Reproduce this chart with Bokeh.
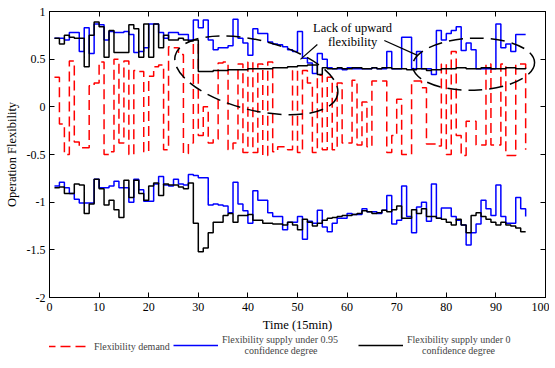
from bokeh.plotting import figure
from bokeh.layouts import column
from bokeh.models import LinearAxis, Range1d, Legend, LegendItem
from bokeh.embed import file_html
from bokeh.resources import INLINE
from bokeh.core.properties import value

# ---------------- data ----------------
time = list(range(1, 97))

demand = [0.31, -0.18, -0.50, 0.48, -0.37, -0.43, -0.43, 0.22, 0.25, 0.47,
          -0.50, -0.47, 0.50, -0.38, 0.48, -0.50, 0.38, 0.37, -0.47, 0.32,
          0.42, 0.44, -0.45, 0.63, 0.62, 0.55, -0.49, -0.38, 0.66, -0.30,
          0.00, -0.38, -0.34, 0.46, 0.47, -0.45, -0.38, 0.45, -0.48, 0.47,
          -0.48, 0.45, -0.51, 0.47, -0.47, -0.42, -0.42, -0.45, 0.38, -0.48,
          0.38, 0.25, -0.48, 0.33, -0.45, 0.31, -0.45, 0.25, -0.38, -0.38,
          0.28, -0.40, 0.05, -0.42, 0.27, 0.27, 0.27, -0.48, -0.30, 0.08,
          -0.50, -0.50, 0.27, 0.27, 0.20, -0.39, -0.39, -0.41, 0.45, -0.50,
          0.58, -0.30, -0.51, -0.15, -0.15, -0.40, -0.40, 0.45, -0.40, -0.40,
          0.45, -0.51, -0.51, 0.45, 0.45, -0.45]

supply95_up = [0.72, 0.72, 0.70, 0.78, 0.78, 0.58, 0.83, 0.56, 0.87, 0.86,
               0.70, 0.79, 0.78, 0.78, 0.79, 0.76, 0.57, 0.58, 0.62, 0.87,
               0.87, 0.78, 0.72, 0.78, 0.78, 0.76, 0.76, 0.70, 0.91, 0.83,
               0.91, 0.70, 0.60, 0.62, 0.62, 0.64, 0.92, 0.72, 0.67, 0.54,
               0.82, 0.77, 0.77, 0.68, 0.66, 0.65, 0.63, 0.60, 0.58, 0.79,
               0.51, 0.46, 0.35, 0.56, 0.50, 0.41, 0.40, 0.40, 0.39, 0.41,
               0.40, 0.40, 0.40, 0.40, 0.41, 0.40, 0.40, 0.58, 0.40, 0.40,
               0.73, 0.73, 0.40, 0.58, 0.40, 0.40, 0.34, 0.80, 0.70, 0.77,
               0.80, 0.84, 0.59, 0.67, 0.60, 0.40, 0.40, 0.40, 0.40, 0.87,
               0.62, 0.66, 0.58, 0.76, 0.76, 0.76]

supply0_up = [0.72, 0.66, 0.75, 0.73, 0.72, 0.72, 0.42, 0.75, 0.89, 0.84,
              0.52, 0.80, 0.57, 0.57, 0.57, 0.86, 0.82, 0.52, 0.87, 0.52,
              0.87, 0.62, 0.75, 0.70, 0.70, 0.72, 0.70, 0.69, 0.70, 0.37,
              0.37, 0.37, 0.38, 0.38, 0.38, 0.39, 0.39, 0.39, 0.39, 0.40,
              0.40, 0.40, 0.40, 0.40, 0.41, 0.41, 0.41, 0.42, 0.42, 0.43,
              0.43, 0.44, 0.44, 0.34, 0.41, 0.40, 0.40, 0.41, 0.40, 0.40,
              0.41, 0.41, 0.40, 0.40, 0.41, 0.40, 0.41, 0.41, 0.40, 0.40,
              0.40, 0.39, 0.39, 0.40, 0.40, 0.38, 0.39, 0.39, 0.40, 0.40,
              0.40, 0.41, 0.41, 0.40, 0.40, 0.40, 0.41, 0.41, 0.40, 0.40,
              0.40, 0.41, 0.41, 0.40, 0.40, 0.41]

supply95_down = [-0.83, -0.79, -0.85, -0.91, -0.97, -1.01, -1.01, -1.01, -0.76, -0.85,
                 -0.85, -0.83, -0.78, -0.85, -0.85, -1.00, -0.76, -0.87, -0.99, -0.99,
                 -0.81, -0.73, -0.82, -0.83, -0.76, -0.81, -0.82, -0.71, -0.72, -0.745,
                 -0.745, -1.03, -1.02, -1.03, -1.04, -1.11, -0.79, -1.02, -1.09, -1.22,
                 -0.88, -0.98, -0.98, -1.11, -1.15, -1.15, -1.29, -1.21, -1.21, -1.15,
                 -1.39, -1.20, -1.22, -1.085, -1.26, -1.31, -1.22, -1.17, -1.17, -1.12,
                 -1.13, -1.13, -1.07, -1.10, -1.10, -1.12, -1.085, -0.93, -1.23, -1.19,
                 -0.83, -1.15, -1.32, -1.05, -1.00, -1.20, -0.81, -1.17, -1.06, -1.06,
                 -1.15, -1.19, -1.24, -1.45, -1.32, -1.23, -0.98, -1.07, -1.14, -0.82,
                 -1.15, -1.22, -1.22, -0.95, -1.07, -1.15]

supply0_down = [-0.85, -0.84, -0.91, -0.91, -0.81, -0.82, -1.12, -1.02, -0.76, -0.86,
                -1.03, -0.98, -1.08, -1.16, -0.77, -0.95, -0.77, -0.91, -0.98, -0.83,
                -0.80, -0.93, -0.81, -0.82, -0.82, -0.84, -0.86, -0.80, -1.22, -1.52,
                -1.48, -1.32, -1.21, -1.21, -1.14, -1.12, -1.21, -1.14, -1.14, -1.13,
                -1.19, -1.19, -1.22, -1.22, -1.23, -1.23, -1.24, -1.21, -1.24, -1.29,
                -1.18, -1.21, -1.25, -1.22, -1.19, -1.17, -1.16, -1.15, -1.14, -1.14,
                -1.13, -1.12, -1.09, -1.10, -1.12, -1.11, -1.085, -1.10, -1.08, -1.04,
                -1.17, -1.17, -1.08, -1.12, -1.07, -1.15, -1.15, -1.17, -1.18, -1.21,
                -1.24, -1.18, -1.24, -1.32, -1.14, -1.11, -1.15, -1.18, -1.21, -1.24,
                -1.21, -1.24, -1.25, -1.27, -1.31, -1.31]

x_ticks = [0, 10, 20, 30, 40, 50, 60, 70, 80, 90, 100]
y_ticks = [-2, -1.5, -1, -0.5, 0, 0.5, 1]
y_tick_labels = ["-2", "-1.5", "-1", "-0.5", "0", "0.5", "1"]

NB = "\u00a0"
series_labels = ["Flexibility demand",
                 "Flexibility supply under 0.95\n" + NB * 9 + "confidence degree",
                 "Flexibility supply under 0\n" + NB * 6 + "confidence degree"]

note_lines = ["Lack of upward", "flexibility"]

FONT = "Liberation Serif"
W = 549
NAN = float("nan")

# ---------------- main figure ----------------
p = figure(width=W, height=334, x_range=Range1d(0, 100), y_range=Range1d(-2, 1),
           output_backend="svg", toolbar_location=None,
           min_border_left=49, min_border_right=4, min_border_top=11, min_border_bottom=34,
           background_fill_color="white", border_fill_color="white")
p.xgrid.visible = False
p.ygrid.visible = False
p.outline_line_color = "black"
p.outline_line_alpha = 1
p.outline_line_width = 1


def style_axis(ax, ticks):
    ax.ticker = ticks
    ax.major_tick_in = 5
    ax.major_tick_out = 0
    ax.minor_tick_line_color = None
    ax.axis_line_color = "black"
    ax.major_tick_line_color = "black"
    ax.major_label_text_font = FONT
    ax.major_label_text_font_size = "12px"
    ax.major_label_text_color = "black"
    ax.axis_label_text_font = FONT
    ax.axis_label_text_font_size = "12.5px"
    ax.axis_label_text_font_style = "normal"
    ax.axis_label_text_color = "black"


style_axis(p.xaxis[0], x_ticks)
style_axis(p.yaxis[0], y_ticks)
p.yaxis[0].major_label_overrides = {t: l for t, l in zip(y_ticks, y_tick_labels)}
p.xaxis[0].axis_label = "Time (15min)"
p.yaxis[0].axis_label = "Operation Flexibility"
p.xaxis[0].major_label_standoff = 5
p.xaxis[0].axis_label_standoff = 4
p.yaxis[0].major_label_standoff = 4
p.yaxis[0].axis_label_standoff = 5

top = LinearAxis()
right = LinearAxis()
for ax, t in ((top, x_ticks), (right, y_ticks)):
    style_axis(ax, t)
    ax.major_label_overrides = {v: "" for v in t}
    ax.major_label_text_color = None
    ax.major_label_standoff = 0
p.add_layout(top, "above")
p.add_layout(right, "right")

# ---------------- series ----------------
r_dem = p.step(time, demand, mode="after", line_color="red", line_width=1.5, line_dash="10 5")
r_b1 = p.step(time, supply95_up, mode="after", line_color="blue", line_width=1.5)
r_b2 = p.step(time, supply95_down, mode="after", line_color="blue", line_width=1.5)
r_k1 = p.step(time, supply0_up, mode="after", line_color="black", line_width=1.5)
r_k2 = p.step(time, supply0_down, mode="after", line_color="black", line_width=1.5)

# ---------------- annotation ----------------
ell_x = [41.7, 85.5]
ell_y = [0.33, 0.447]
ell_w = [167, 122]
ell_h = [70, 52]
ell_a = [-0.24, 0.03]
p.ellipse(x=ell_x, y=ell_y, width=ell_w, height=ell_h, angle=ell_a,
          width_units="screen", height_units="screen",
          fill_alpha=0, line_color="black", line_width=1.5, line_dash="14 7")

p.segment(x0=[54.0, 67.5], y0=[0.654, 0.696], x1=[50.6, 74.2], y1=[0.498, 0.54],
          line_color="black", line_width=1.2)

p.text(x=[61.1, 61.1], y=[0.83, 0.675], text=note_lines,
       text_font=value(FONT), text_font_size="12.5px",
       text_align="center", text_baseline="middle", text_color="black")

# ---------------- legend figure (frame is aligned with the main frame) ----------------
lg = figure(width=W, height=28, x_range=Range1d(0, 1), y_range=Range1d(0, 1),
            output_backend="svg", toolbar_location=None,
            x_axis_type=None, y_axis_type=None,
            min_border_left=0, min_border_right=0, min_border_top=0, min_border_bottom=0,
            outline_line_color=None)
lg.xgrid.visible = False
lg.ygrid.visible = False
d_dem = lg.line([NAN], [NAN], line_color="red", line_width=1.5, line_dash="10 5")
d_b = lg.line([NAN], [NAN], line_color="blue", line_width=1.5)
d_k = lg.line([NAN], [NAN], line_color="black", line_width=1.5)

leg_pos = [(-4, 6), (124, 6), (309, 6)]
for r, lab, pos in zip([d_dem, d_b, d_k], series_labels, leg_pos):
    leg = Legend(items=[LegendItem(label=lab, renderers=[r])],
                 location=pos, orientation="horizontal",
                 border_line_alpha=0, background_fill_alpha=0,
                 label_text_font=FONT, label_text_font_size="10px",
                 label_text_line_height=1.15,
                 glyph_width=45, glyph_height=20, label_standoff=4,
                 padding=0, margin=0, label_height=20)
    lg.add_layout(leg, "center")

layout = column(p, lg, spacing=0)
open("out.html", "w").write(file_html(layout, INLINE))
